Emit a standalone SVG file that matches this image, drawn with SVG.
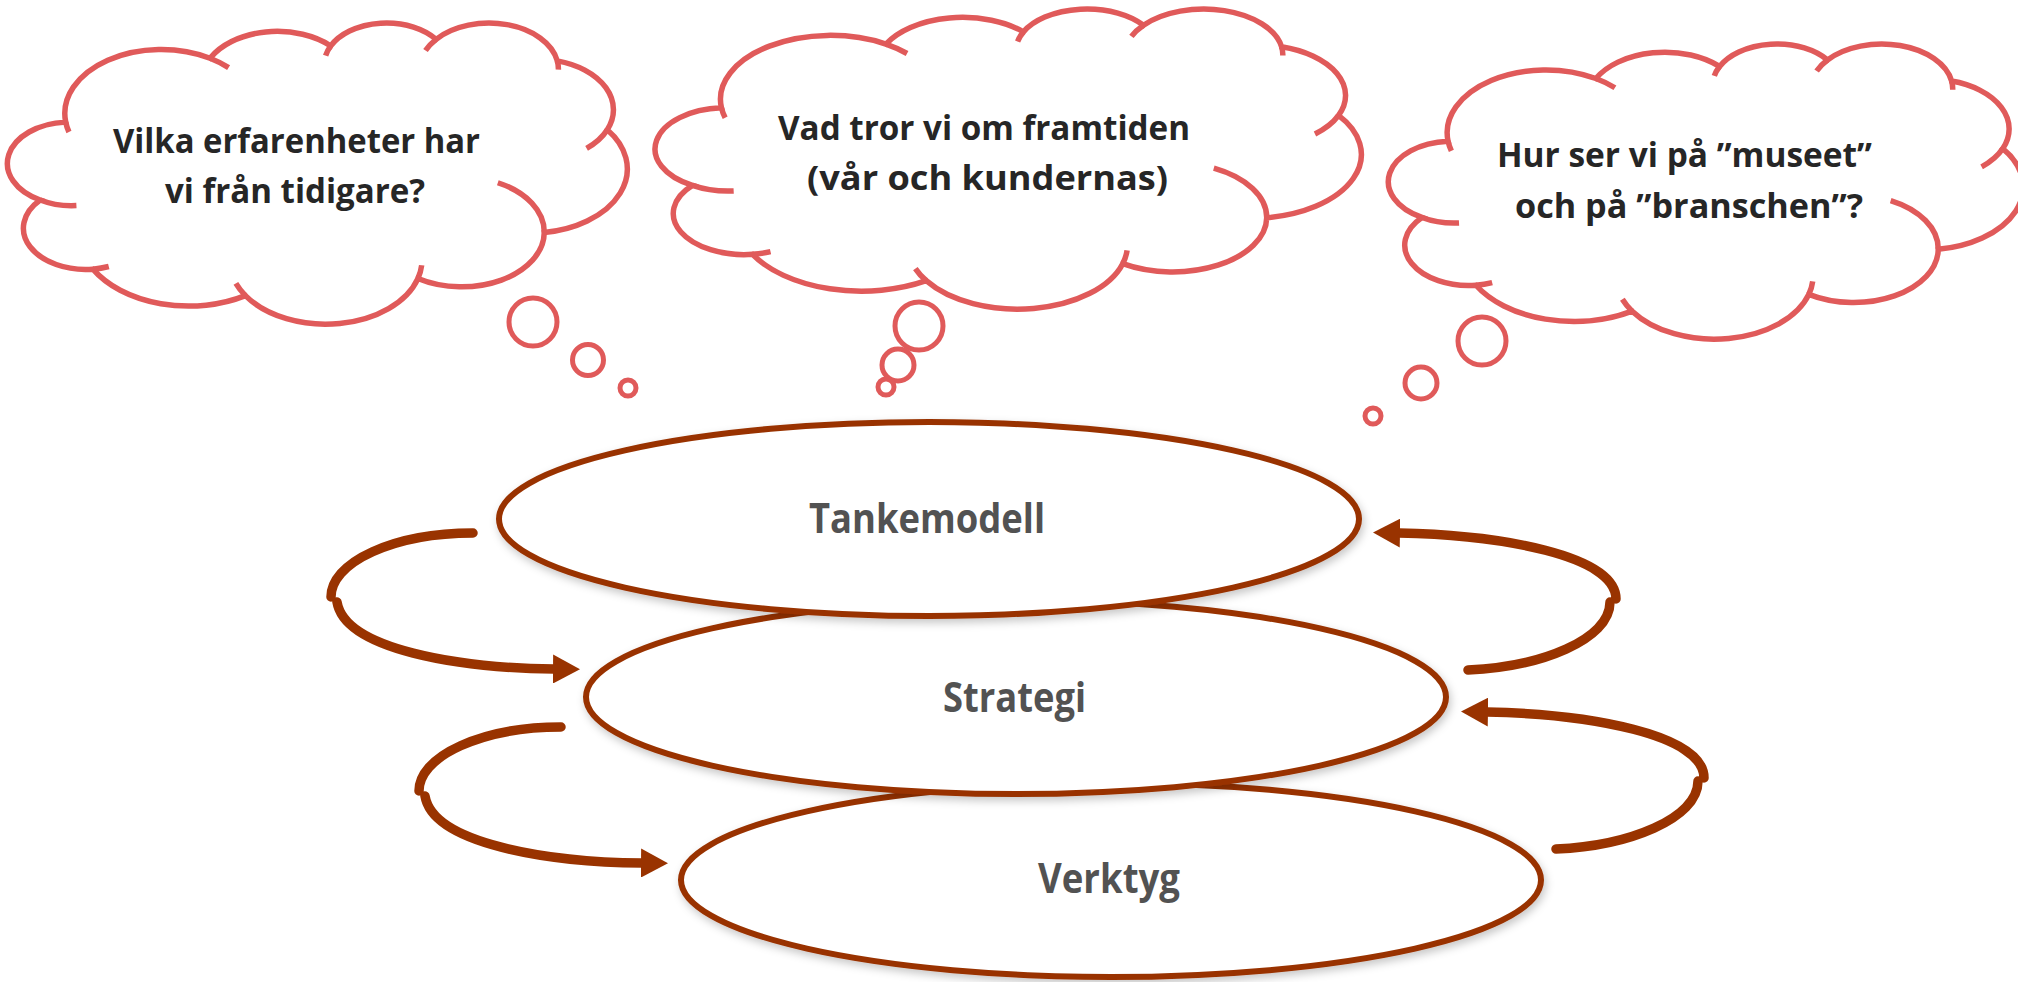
<svg xmlns="http://www.w3.org/2000/svg" width="2018" height="982" viewBox="0 0 2018 982">
<style>
.cloud{fill:#ffffff;stroke:#E05A5A;stroke-width:5.5;vector-effect:non-scaling-stroke}
.hook{fill:none;stroke:#E05A5A;stroke-width:5.5;vector-effect:non-scaling-stroke}
.bub{fill:#ffffff;stroke:#E05A5A;stroke-width:5}
.ell{fill:#ffffff;stroke:#993300;stroke-width:6;filter:url(#sh)}
.arr{fill:none;stroke:#993300;stroke-width:9.5;stroke-linecap:round;marker-end:url(#ah)}
.ct{font-family:"Open Sans",Lato,"Liberation Sans",sans-serif;font-weight:bold;font-size:33.5px;fill:#262626}
.lbl{font-family:"Open Sans",Lato,"Liberation Sans",sans-serif;font-weight:bold;font-size:41px;fill:#525252}
</style>
<defs>
<filter id="sh" x="-10%" y="-20%" width="120%" height="150%">
<feDropShadow dx="2" dy="4" stdDeviation="4" flood-color="#000000" flood-opacity="0.22"/>
</filter>
<marker id="ah" markerUnits="userSpaceOnUse" viewBox="0 0 27 29" markerWidth="27" markerHeight="29" refX="1" refY="14.5" orient="auto">
<path d="M0,0 L27,14.5 L0,29 Z" fill="#993300"/>
</marker>
</defs>
<rect width="2018" height="982" fill="#ffffff"/>

<g id="cloud1">
<path class="cloud" transform="translate(10,22) scale(1.42824,0.69676)" d="M 39 143.7 A 67.53 91.9 0 0 1 140.05 52.02 A 53.33 72.67 0 0 1 224.57 34.34 A 43.65 59.45 0 0 1 298.35 24.82 A 48.57 65.95 0 0 1 383.2 55.77 A 53.33 72.73 0 0 1 418.2 154.61 A 67.75 92.2 0 0 1 374.06 302.06 A 57.85 78.67 0 0 1 285.58 368.16 A 67.52 92.15 0 0 1 164.83 392.68 A 77.2 105.43 0 0 1 58.06 354.72 A 43.6 59.18 0 0 1 21.16 255.49 A 43.45 59.45 0 0 1 39 143.7 Z"/>
<path class="hook" transform="translate(10,22) scale(1.42824,0.69676)" d="M 46.5 263.46 A 43.45 59.45 0 0 1 21.16 255.49 M 69.15 350.91 A 43.6 59.18 0 0 1 58.06 354.72 M 164.83 392.68 A 67.52 92.15 0 0 1 158.15 375.26 M 288.25 349.07 A 67.52 92.15 0 0 1 285.58 368.16 M 341.55 230.7 A 57.85 78.67 0 0 1 374.06 302.06 M 418.2 154.61 A 53.33 72.73 0 0 1 403.72 181.37 M 383.2 55.77 A 48.57 65.95 0 0 1 383.96 68.41 M 290.93 40.94 A 48.57 65.95 0 0 1 298.35 24.82 M 220.99 48.24 A 43.65 59.45 0 0 1 224.57 34.34 M 140.05 52.02 A 67.53 91.9 0 0 1 153.06 65.52 M 41.27 157.89 A 67.53 91.9 0 0 1 39 143.7"/>
<circle class="bub" cx="533" cy="322" r="24"/>
<circle class="bub" cx="588" cy="360" r="15.5"/>
<circle class="bub" cx="628" cy="388" r="8"/>
<text class="ct" x="113" y="153" textLength="367" lengthAdjust="spacingAndGlyphs">Vilka erfarenheter har</text>
<text class="ct" x="165" y="203" textLength="260" lengthAdjust="spacingAndGlyphs">vi från tidigare?</text>
</g>

<g id="cloud2">
<path class="cloud" transform="translate(658,8) scale(1.62731,0.69444)" d="M 39 143.7 A 67.53 91.9 0 0 1 140.05 52.02 A 53.33 72.67 0 0 1 224.57 34.34 A 43.65 59.45 0 0 1 298.35 24.82 A 48.57 65.95 0 0 1 383.2 55.77 A 53.33 72.73 0 0 1 418.2 154.61 A 67.75 92.2 0 0 1 374.06 302.06 A 57.85 78.67 0 0 1 285.58 368.16 A 67.52 92.15 0 0 1 164.83 392.68 A 77.2 105.43 0 0 1 58.06 354.72 A 43.6 59.18 0 0 1 21.16 255.49 A 43.45 59.45 0 0 1 39 143.7 Z"/>
<path class="hook" transform="translate(658,8) scale(1.62731,0.69444)" d="M 46.5 263.46 A 43.45 59.45 0 0 1 21.16 255.49 M 69.15 350.91 A 43.6 59.18 0 0 1 58.06 354.72 M 164.83 392.68 A 67.52 92.15 0 0 1 158.15 375.26 M 288.25 349.07 A 67.52 92.15 0 0 1 285.58 368.16 M 341.55 230.7 A 57.85 78.67 0 0 1 374.06 302.06 M 418.2 154.61 A 53.33 72.73 0 0 1 403.72 181.37 M 383.2 55.77 A 48.57 65.95 0 0 1 383.96 68.41 M 290.93 40.94 A 48.57 65.95 0 0 1 298.35 24.82 M 220.99 48.24 A 43.65 59.45 0 0 1 224.57 34.34 M 140.05 52.02 A 67.53 91.9 0 0 1 153.06 65.52 M 41.27 157.89 A 67.53 91.9 0 0 1 39 143.7"/>
<circle class="bub" cx="919" cy="326" r="24"/>
<circle class="bub" cx="898" cy="365" r="16"/>
<circle class="bub" cx="886" cy="387" r="8"/>
<text class="ct" x="778" y="140" textLength="412" lengthAdjust="spacingAndGlyphs">Vad tror vi om framtiden</text>
<text class="ct" x="807" y="190" textLength="361" lengthAdjust="spacingAndGlyphs">(vår och kundernas)</text>
</g>

<g id="cloud3">
<path class="cloud" transform="translate(1391,43) scale(1.46296,0.68287)" d="M 39 143.7 A 67.53 91.9 0 0 1 140.05 52.02 A 53.33 72.67 0 0 1 224.57 34.34 A 43.65 59.45 0 0 1 298.35 24.82 A 48.57 65.95 0 0 1 383.2 55.77 A 53.33 72.73 0 0 1 418.2 154.61 A 67.75 92.2 0 0 1 374.06 302.06 A 57.85 78.67 0 0 1 285.58 368.16 A 67.52 92.15 0 0 1 164.83 392.68 A 77.2 105.43 0 0 1 58.06 354.72 A 43.6 59.18 0 0 1 21.16 255.49 A 43.45 59.45 0 0 1 39 143.7 Z"/>
<path class="hook" transform="translate(1391,43) scale(1.46296,0.68287)" d="M 46.5 263.46 A 43.45 59.45 0 0 1 21.16 255.49 M 69.15 350.91 A 43.6 59.18 0 0 1 58.06 354.72 M 164.83 392.68 A 67.52 92.15 0 0 1 158.15 375.26 M 288.25 349.07 A 67.52 92.15 0 0 1 285.58 368.16 M 341.55 230.7 A 57.85 78.67 0 0 1 374.06 302.06 M 418.2 154.61 A 53.33 72.73 0 0 1 403.72 181.37 M 383.2 55.77 A 48.57 65.95 0 0 1 383.96 68.41 M 290.93 40.94 A 48.57 65.95 0 0 1 298.35 24.82 M 220.99 48.24 A 43.65 59.45 0 0 1 224.57 34.34 M 140.05 52.02 A 67.53 91.9 0 0 1 153.06 65.52 M 41.27 157.89 A 67.53 91.9 0 0 1 39 143.7"/>
<circle class="bub" cx="1482" cy="341" r="24"/>
<circle class="bub" cx="1421" cy="383" r="16"/>
<circle class="bub" cx="1373" cy="416" r="8"/>
<text class="ct" x="1497" y="167" textLength="375" lengthAdjust="spacingAndGlyphs">Hur ser vi på ”museet”</text>
<text class="ct" x="1515" y="218" textLength="348" lengthAdjust="spacingAndGlyphs">och på ”branschen”?</text>
</g>

<g id="verktyg">
<ellipse class="ell" cx="1111" cy="880" rx="430" ry="97"/>
<text class="lbl" x="1038" y="893" textLength="142" lengthAdjust="spacingAndGlyphs">Verktyg</text>
</g>
<g id="strategi">
<ellipse class="ell" cx="1016" cy="697" rx="430" ry="97"/>
<text class="lbl" x="943" y="712" textLength="143" lengthAdjust="spacingAndGlyphs">Strategi</text>
</g>
<g id="tankemodell">
<ellipse class="ell" cx="929" cy="519" rx="430" ry="97"/>
<text class="lbl" x="809" y="533" textLength="236" lengthAdjust="spacingAndGlyphs">Tankemodell</text>
</g>

<g id="connectors">
<path class="arr" d="M 473 533 A 142 64 0 0 0 331 597 M 337 602 C 345 650 460 668 554 669"/>
<path class="arr" d="M 561 727 A 142 64 0 0 0 419 791 M 425 796 C 433 844 548 862 642 863"/>
<path class="arr" d="M 1468 670 C 1540 667 1610 640 1610 602 M 1616 599 C 1616 555 1500 535 1399 533"/>
<path class="arr" d="M 1556 849 C 1628 846 1698 819 1698 781 M 1704 778 C 1704 734 1588 714 1487 712"/>
</g>
</svg>
